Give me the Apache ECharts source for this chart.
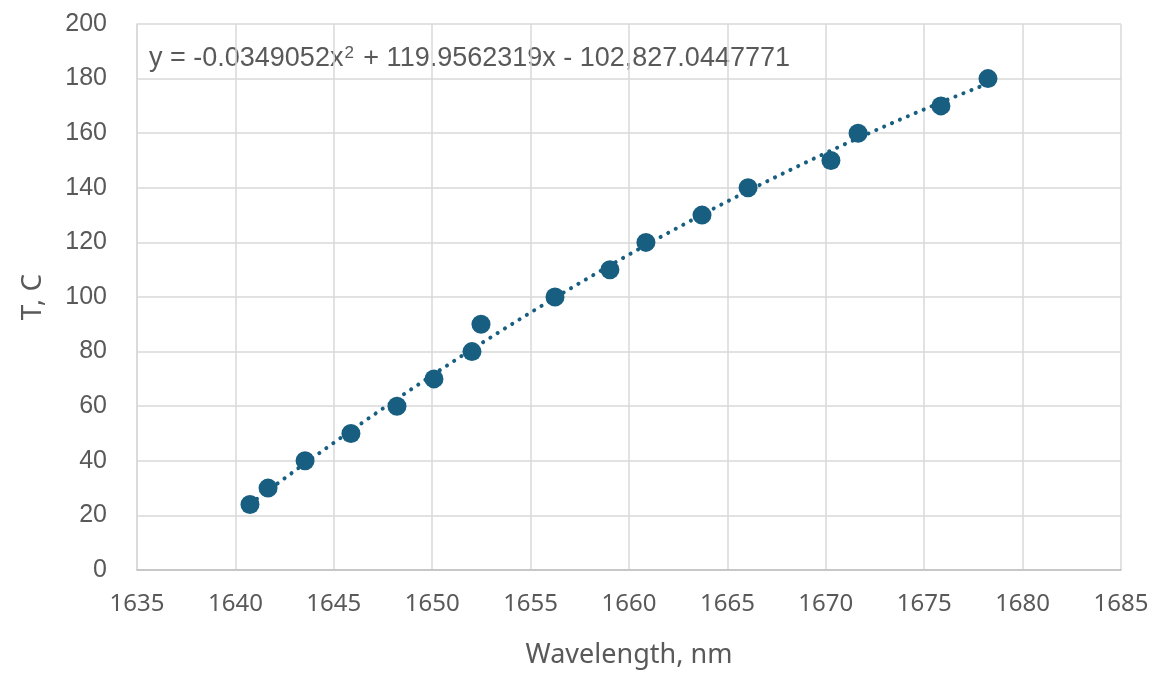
<!DOCTYPE html>
<html><head><meta charset="utf-8">
<script src="https://cdn.jsdelivr.net/npm/echarts@6/dist/echarts.min.js"></script>
<style>html,body{margin:0;padding:0;background:#fff}#c{width:1158px;height:677px}</style>
</head><body><div id="c"></div>
<script>
const wavelength = [1640.74, 1641.66, 1643.54, 1645.87, 1648.21, 1650.09, 1652.02, 1652.48, 1656.24, 1659.03, 1660.86, 1663.71, 1666.05, 1670.26, 1671.64, 1675.85, 1678.24];
const temperature = [24, 30, 40, 50, 60, 70, 80, 90, 100, 110, 120, 130, 140, 150, 160, 170, 180];
const trendCoef = [-0.0349052, 119.9562319, -102827.0447771]; // a, b, c of displayed fit
const xTicks = [1635, 1640, 1645, 1650, 1655, 1660, 1665, 1670, 1675, 1680, 1685];
const yTicks = [0, 20, 40, 60, 80, 100, 120, 140, 160, 180, 200];

const pts = wavelength.map((x, i) => [x, temperature[i]]);
const xMin = Math.min(...wavelength), xMax = Math.max(...wavelength);
const trend = [];
for (let k = 0; k <= 100; k++) {
  const x = xMin + (xMax - xMin) * k / 100;
  trend.push([x, trendCoef[0] * x * x + trendCoef[1] * x + trendCoef[2]]);
}
const color = '#175e80';
const txt = '#595959';
const chart = echarts.init(document.getElementById('c'));
chart.setOption({
  animation: false,
  grid: { left: 137, right: 37, top: 24, bottom: 107 },
  xAxis: {
    type: 'value', min: xTicks[0], max: xTicks[xTicks.length - 1], interval: 5,
    name: 'Wavelength, nm', nameLocation: 'middle', nameGap: 72,
    nameTextStyle: { color: txt, fontSize: 27, fontFamily: 'Noto Sans' },
    axisLine: { lineStyle: { color: '#bfbfbf', width: 1.5 } },
    axisTick: { show: false },
    axisLabel: { color: txt, fontSize: 24, fontFamily: 'Noto Sans', margin: 22, formatter: v => String(v) },
    splitLine: { show: true, lineStyle: { color: '#d9d9d9', width: 1.5 } }
  },
  yAxis: {
    type: 'value', min: yTicks[0], max: yTicks[yTicks.length - 1], interval: 20,
    name: 'T, C', nameLocation: 'middle', nameGap: 90, nameRotate: 90,
    nameTextStyle: { color: txt, fontSize: 28, fontFamily: 'Noto Sans' },
    axisLine: { show: true, lineStyle: { color: '#d9d9d9', width: 1.5 } },
    axisTick: { show: false },
    axisLabel: { color: txt, fontSize: 25, fontFamily: 'Liberation Sans', margin: 30 },
    splitLine: { show: true, lineStyle: { color: '#d9d9d9', width: 1.5 } }
  },
  graphic: [{
    type: 'text', left: 149, top: 45,
    style: {
      text: '{a|y = -0.0349052x}{s|2}{a| + 119.9562319x - 102,827.0447771}',
      rich: {
        a: { fontSize: 27, fill: txt, fontFamily: 'Liberation Sans', verticalAlign: 'bottom' },
        s: { fontSize: 17, fill: txt, fontFamily: 'Liberation Sans', verticalAlign: 'top', padding: [0, 2, 10, 1] }
      }
    }
  }],
  series: [
    {
      type: 'line', data: trend, showSymbol: false, symbol: 'none', smooth: false,
      lineStyle: { color: color, width: 4, type: [0.1, 8.5], cap: 'round' }, z: 2
    },
    {
      type: 'scatter', data: pts, symbolSize: 19,
      itemStyle: { color: color, opacity: 1 }, z: 3
    }
  ]
});
</script></body></html>
